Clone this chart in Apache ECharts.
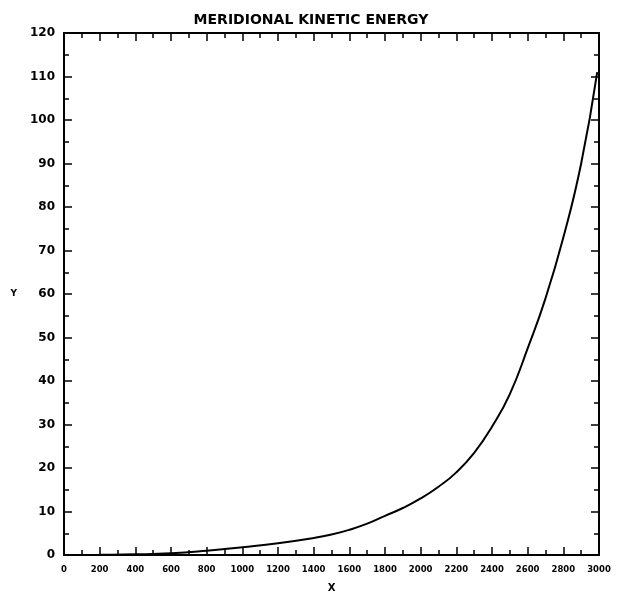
<!DOCTYPE html>
<html>
<head>
<meta charset="utf-8">
<script src="https://cdn.jsdelivr.net/npm/echarts@6/dist/echarts.min.js"></script>
<style>
  html, body { margin: 0; padding: 0; background: #fff; }
  #myCharts { width: 620px; height: 598px; }
</style>
</head>
<body>
<div id="myCharts"></div>
<script>
  // values
  var xValues = [0, 200, 400, 600, 800, 1000, 1200, 1400, 1500, 1600, 1700, 1800, 1900, 2000, 2100, 2200, 2300, 2400, 2500, 2600, 2700, 2800, 2900, 2990];
  var yValues = [0, 0.05, 0.15, 0.4, 1.0, 1.8, 2.7, 3.9, 4.7, 5.8, 7.2, 9.0, 10.8, 13.0, 15.7, 19.0, 23.5, 29.5, 37, 47.5, 59, 73, 90, 111];

  var myChart = echarts.init(document.getElementById('myCharts'));
  var font = 'DejaVu Sans';

  // 画一个坐标轴（下/上/左/右共用）
  function axis(type, pos, showLabel, max, interval) {
    return {
      type: 'value',
      position: pos,
      min: 0,
      max: max,
      interval: interval,
      splitLine: { show: false },
      axisLine: { show: true, onZero: false, lineStyle: { color: '#000', width: 2 } },
      axisTick: { show: true, inside: true, length: 8, lineStyle: { color: '#000', width: 1.5 } },
      minorTick: { show: true, splitNumber: 2, length: 5, lineStyle: { color: '#000', width: 1.5 } },
      axisLabel: {
        show: showLabel,
        color: '#000',
        fontFamily: font,
        fontWeight: 'bold',
        fontSize: type === 'x' ? 8.5 : 12,
        margin: type === 'x' ? 10 : 9,
        formatter: function (v) { return String(v); }
      }
    };
  }

  var xBottom = axis('x', 'bottom', true, 3000, 200);
  xBottom.name = 'X';
  xBottom.nameLocation = 'middle';
  xBottom.nameGap = 28;
  xBottom.nameTextStyle = { color: '#000', fontFamily: font, fontWeight: 'bold', fontSize: 10 };

  var yLeft = axis('y', 'left', true, 120, 10);
  yLeft.name = 'Y';
  yLeft.nameLocation = 'middle';
  yLeft.nameGap = 47;
  yLeft.nameRotate = 0;
  yLeft.nameTextStyle = { color: '#000', fontFamily: font, fontWeight: 'bold', fontSize: 9 };

  var option = {
    backgroundColor: '#fff',
    animation: false,
    title: {
      text: 'MERIDIONAL KINETIC ENERGY',
      left: 306,
      textAlign: 'center',
      top: 8,
      textStyle: { color: '#000', fontFamily: font, fontWeight: 'bold', fontSize: 14 }
    },
    grid: { left: 64, right: 21, top: 33, bottom: 37 },
    xAxis: [xBottom, axis('x', 'top', false, 3000, 200)],
    yAxis: [yLeft, axis('y', 'right', false, 120, 10)],
    series: [
      {
        type: 'line',
        smooth: true,
        symbol: 'none',
        data: xValues.map(function (x, i) { return [x, yValues[i]]; }),
        lineStyle: { color: '#000', width: 2 }
      }
    ]
  };
  myChart.setOption(option);
</script>
</body>
</html>
